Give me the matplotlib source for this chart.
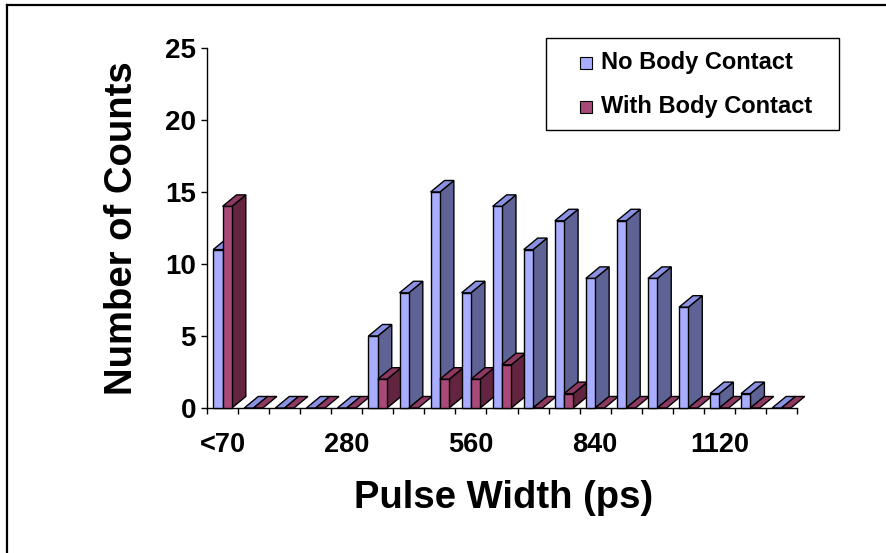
import numpy as np
import matplotlib.pyplot as plt
from matplotlib.patches import Polygon, Rectangle
from matplotlib.lines import Line2D

plt.rcParams['font.family'] = ['Liberation Sans', 'DejaVu Sans']
plt.rcParams['font.weight'] = 'bold'

# pulse width bins (70 ps wide), first bin is everything below 70 ps
bins = ['<70', '70', '140', '210', '280', '350', '420', '490', '560', '630',
        '700', '770', '840', '910', '980', '1050', '1120', '1190', '1260']
no_contact = [11, 0, 0, 0, 0, 5, 8, 15, 8, 14, 11, 13, 9, 13, 9, 7, 1, 1, 0]
with_contact = [14, 0, 0, 0, 0, 2, 0, 2, 2, 3, 0, 1, 0, 0, 0, 0, 0, 0, 0]
series_names = ['No Body Contact', 'With Body Contact']
label_every = 4

# front / side / top shades for the fake 3-D columns
blue = {'front': '#A9ADFF', 'side': '#5F6295', 'top': '#8B91E2'}
red = {'front': '#A9497A', 'side': '#62243F', 'top': '#8E3962'}

W, H = 886, 553
fig = plt.figure(figsize=(W / 100, H / 100), dpi=100)


def px(x, y):
    return x / W, 1 - y / H


ax = fig.add_axes([207 / W, (H - 408) / H, (797 - 207) / W, (408 - 48) / H])
ax.set_xlim(-0.5, len(bins) - 0.5)
ax.set_ylim(0, 25)

bar_w = 0.3
dx, dy = 0.45, 0.8
edge = dict(edgecolor='black', linewidth=1.0, clip_on=False, joinstyle='miter')


def column(x0, h, c):
    x1 = x0 + bar_w
    if h > 0:
        ax.add_patch(Polygon([(x1, 0), (x1 + dx, dy), (x1 + dx, h + dy), (x1, h)],
                             facecolor=c['side'], **edge))
    ax.add_patch(Polygon([(x0, h), (x0 + dx, h + dy), (x1 + dx, h + dy), (x1, h)],
                         facecolor=c['top'], **edge))
    if h > 0:
        ax.add_patch(Rectangle((x0, 0), bar_w, h, facecolor=c['front'], **edge))


for i, (b, r) in enumerate(zip(no_contact, with_contact)):
    column(i - bar_w, b, blue)
    column(i, r, red)

for side in ['top', 'right']:
    ax.spines[side].set_visible(False)
for side in ['left', 'bottom']:
    ax.spines[side].set_linewidth(1.0)
    ax.spines[side].set_zorder(0.5)

ax.set_yticks(np.arange(0, 26, 5))
ax.tick_params(axis='y', direction='out', length=4.5, width=1.0, pad=3.5,
               labelsize=20)
ax.set_xticks(np.arange(0, len(bins), label_every))
ax.set_xticklabels(bins[::label_every])
ax.set_xticks(np.arange(-0.5, len(bins)), minor=True)
ax.tick_params(axis='x', which='major', length=0, pad=17, labelsize=19.5)
ax.tick_params(axis='x', which='minor', direction='out', length=4.5, width=1.0)
for lab in ax.get_xticklabels() + ax.get_yticklabels():
    lab.set_fontweight('bold')

fig.text(*px(122, 228), 'Number of Counts', rotation=90, ha='center',
         va='center', fontsize=27.5, fontweight='bold')
fig.text(*px(504, 508), 'Pulse Width (ps)', ha='center', va='baseline',
         fontsize=27.5, fontweight='bold')

# legend box
lx0, ly0 = px(546, 130)
lx1, ly1 = px(839, 38)
fig.add_artist(Rectangle((lx0, ly0), lx1 - lx0, ly1 - ly0, transform=fig.transFigure,
                         facecolor='white', edgecolor='black', linewidth=1.0))
for name, c, y in zip(series_names, [blue, red], [69, 113]):
    mx, my = px(580, y)
    fig.add_artist(Rectangle((mx, my), 12 / W, 12 / H, transform=fig.transFigure,
                             facecolor=c['front'], edgecolor='black', linewidth=0.8))
    fig.text(*px(601, y), name, ha='left', va='baseline', fontsize=17,
             fontweight='bold')

# outer frame
fig.add_artist(Line2D([7 / W, 1], [1 - 5 / H, 1 - 5 / H], transform=fig.transFigure,
                      color='black', linewidth=1.6))
fig.add_artist(Line2D([7 / W, 7 / W], [0, 1 - 5 / H], transform=fig.transFigure,
                      color='black', linewidth=1.6))

fig.savefig('out.png', dpi=100)
